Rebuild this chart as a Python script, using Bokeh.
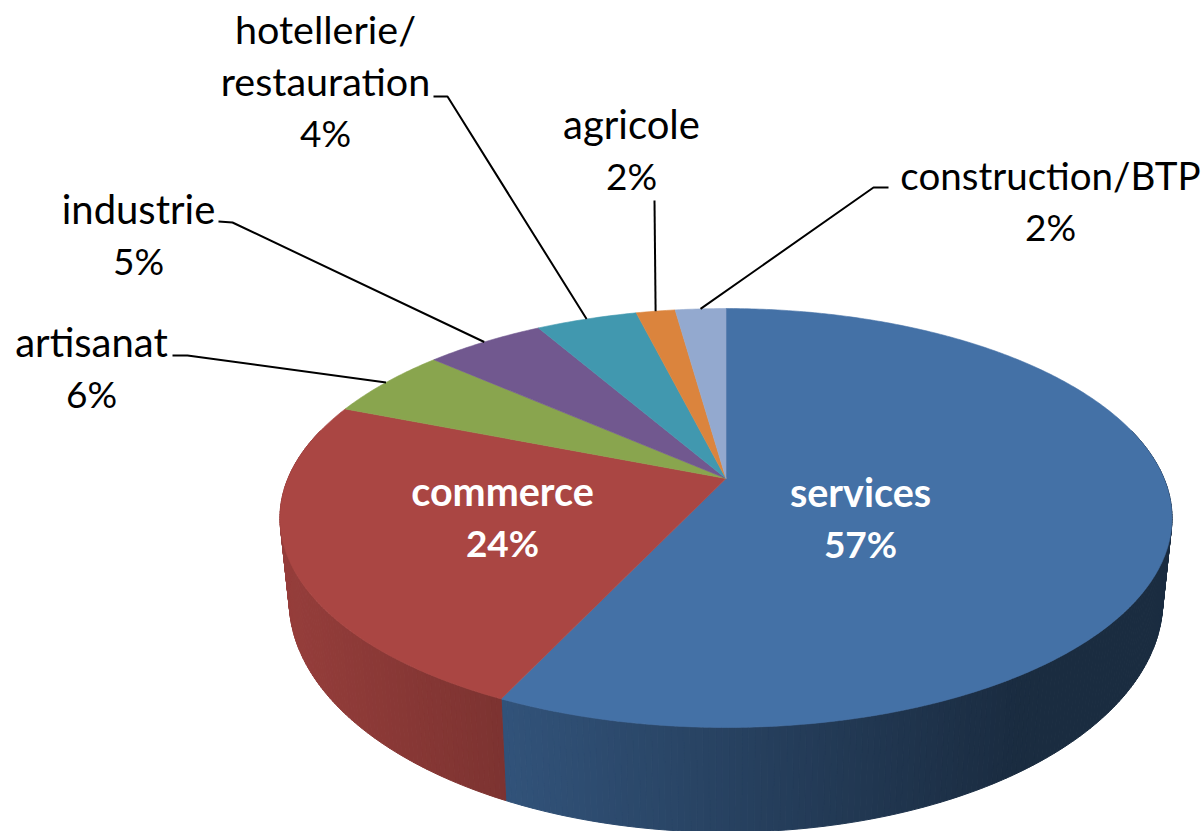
import numpy as np
from bokeh.plotting import figure
from bokeh.models import Range1d, ColumnDataSource
from bokeh.core.properties import value
from bokeh.embed import file_html
from bokeh.resources import INLINE

# ---- data ----
categories = ["services", "commerce", "artisanat", "industrie", "hotellerie/restauration", "agricole", "construction/BTP"]
shares = [57.0, 24.0, 5.5, 5.2, 4.4, 1.7, 2.2]
shown_percent = ["57%", "24%", "6%", "5%", "4%", "2%", "2%"]
colors = ["#4471A6", "#AA4643", "#89A54E", "#71588F", "#4198AF", "#DB843D", "#93A9CF"]

# ---- label layout (page pixels): lines, centre x, vertical centre of first line ----
label_lines = [["services"], ["commerce"], ["artisanat"], ["industrie"], ["hotellerie/", "restauration"], ["agricole"], ["construction/BTP"]]
label_x = [860, 502, 91, 138, 325, 631, 1050]
label_y0 = [491, 490, 341, 208, 28, 123, 174]
word_px = [39.5, 39.5, 40, 40, 39.5, 40, 38.5]
pct_px = 37
line_gap = 52
# leader: label-side elbow points per slice (None = no leader)
leader_pts = [None, None, [(172, 355), (187, 355)], [(218, 221), (232, 222)], [(433, 96), (447, 96)], [(654, 200)], [(888, 187), (873, 187)]]

# ---- perspective disc ----
CX, K = 725.5, 0.1886
TOP = dict(y0=478.0, A=438.0, B=202.0)
BOT = dict(y0=556.0, A=429.0, B=223.7)


def project(theta, d):
    u, v = np.sin(theta), np.cos(theta)
    w = 1 + K * v
    return CX + d["A"] * u / w, d["y0"] - d["B"] * v / w


def shade(hexc, x):
    f = np.clip(0.735 - 0.00068 * (x - 506), 0.39, 0.9)
    r, g, b = [int(hexc[i:i + 2], 16) for i in (1, 3, 5)]
    return "#%02x%02x%02x" % (int(r * f), int(g * f), int(b * f))


W, H = 1203, 831
p = figure(width=W, height=H, output_backend="svg", toolbar_location=None,
           x_range=Range1d(0, W), y_range=Range1d(H, 0),
           min_border=0, outline_line_color=None, background_fill_color="white")
p.xaxis.visible = False
p.yaxis.visible = False
p.grid.visible = False

edges = np.concatenate([[0], np.cumsum(shares)]) / sum(shares) * 2 * np.pi

# side wall: thin shaded strips, only the front half is seen
sx, sy, sc = [], [], []
for i, col in enumerate(colors):
    a0, a1 = edges[i], edges[i + 1]
    lo, hi = max(a0, np.pi / 2 - 0.25), min(a1, 3 * np.pi / 2 + 0.25)
    if hi <= lo:
        continue
    n = max(2, int((hi - lo) / 0.012))
    t = np.linspace(lo, hi, n + 1)
    tx, ty = project(t, TOP)
    bx, by = project(t, BOT)
    for j in range(n):
        sx.append([tx[j], tx[j + 1], bx[j + 1], bx[j]])
        sy.append([ty[j], ty[j + 1], by[j + 1], by[j]])
        sc.append(shade(col, 0.5 * (bx[j] + bx[j + 1])))
p.patches("x", "y", source=ColumnDataSource(dict(x=sx, y=sy, c=sc)),
          fill_color="c", line_color="c", line_width=1)

# top faces
fx, fy = [], []
for i in range(len(shares)):
    t = np.linspace(edges[i], edges[i + 1], max(4, int((edges[i + 1] - edges[i]) / 0.01)))
    x, y = project(t, TOP)
    fx.append([CX] + list(x))
    fy.append([TOP["y0"]] + list(y))
p.patches("x", "y", source=ColumnDataSource(dict(x=fx, y=fy, c=colors)),
          fill_color="c", line_color="c", line_width=0.6)

# leaders, ending at the middle of each slice's rim
lx, ly = [], []
for i, pts in enumerate(leader_pts):
    if pts is None:
        continue
    ex, ey = project(0.5 * (edges[i] + edges[i + 1]), TOP)
    lx.append([q[0] for q in pts] + [float(ex)])
    ly.append([q[1] for q in pts] + [float(ey)])
p.multi_line(lx, ly, line_color="black", line_width=2)

# labels
tx, ty, tt, tc, ts, tz = [], [], [], [], [], []
for i, lines in enumerate(label_lines):
    rows = lines + [shown_percent[i]]
    for j, s in enumerate(rows):
        tx.append(label_x[i])
        ty.append(label_y0[i] + j * line_gap)
        tt.append(s)
        tc.append("white" if i < 2 else "black")
        ts.append("bold" if i < 2 else "normal")
        tz.append(f"{pct_px if j == len(rows) - 1 else word_px[i]}px")
p.text("x", "y", text="t", source=ColumnDataSource(dict(x=tx, y=ty, t=tt, c=tc, s=ts, z=tz)),
       text_color="c", text_font_style="s", text_font=value("Lato"), text_font_size="z",
       text_align="center", text_baseline="alphabetic")

open("out.html", "w").write(file_html(p, INLINE))
